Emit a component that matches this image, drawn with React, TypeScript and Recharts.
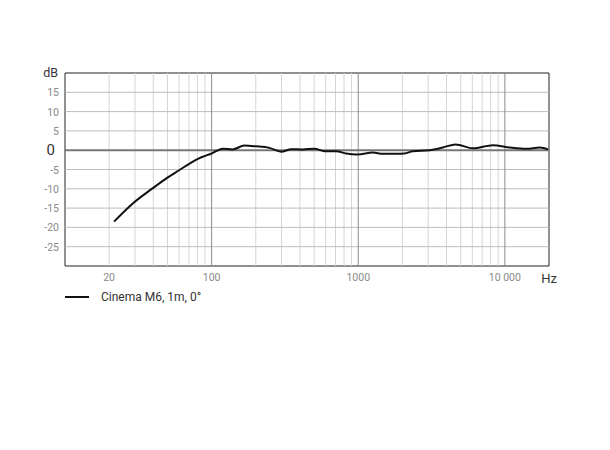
import React from "react";
import {
  LineChart,
  Line,
  XAxis,
  YAxis,
  ReferenceLine,
  ReferenceArea,
} from "recharts";

// On-axis frequency response.
const FREQ_HZ = [
  21.6, 29, 39.5, 50, 60, 74, 82, 87, 100, 119, 139, 167, 201, 248, 298, 349,
  419, 502, 589, 707, 826, 990, 1259, 1470, 1815, 2065, 2355, 3060, 3776, 4611,
  6053, 8297, 10790, 14030, 17290, 19700,
];
const LEVEL_DB = [
  -18.5, -13.8, -9.9, -7.1, -5.2, -3.0, -2.1, -1.7, -0.86, 0.4, 0.2, 1.2, 1.0,
  0.6, -0.4, 0.25, 0.2, 0.4, -0.25, -0.25, -0.86, -1.1, -0.6, -0.95, -0.95,
  -0.86, -0.26, 0.0, 0.7, 1.5, 0.5, 1.3, 0.7, 0.35, 0.7, 0.2,
];

const SERIES_NAME = "Cinema M6, 1m, 0°";

const X_DOMAIN: [number, number] = [10, 20000];
const Y_DOMAIN: [number, number] = [-30, 20];
const X_LABELS = [20, 100, 1000, 10000, 20000];
const X_LABEL_TEXT: Record<number, string> = {
  20: "20",
  100: "100",
  1000: "1000",
  10000: "10 000",
  20000: "Hz",
};
const Y_TICKS = [-30, -25, -20, -15, -10, -5, 0, 5, 10, 15, 20];
const DECADES = [100, 1000, 10000];
const MINOR_GRID = [
  20, 30, 40, 50, 60, 70, 80, 90, 200, 300, 400, 500, 600, 700, 800, 900, 2000,
  3000, 4000, 5000, 6000, 7000, 8000, 9000,
];
const H_GRID = [-25, -20, -15, -10, -5, 5, 10, 15];

const FONT = "Roboto, 'Noto Sans', sans-serif";
const LABEL = "#8a8a8a";
const DARK = "#333";

const data = FREQ_HZ.map((f, i) => ({ f, db: LEVEL_DB[i] }));

function XTick({ x, y, payload }: any) {
  const v = payload.value;
  const hz = v === 20000;
  return (
    <text
      x={x}
      y={y + (hz ? 9 : 7)}
      textAnchor="middle"
      fontFamily={FONT}
      fontSize={hz ? 13 : 10.5}
      fill={hz ? DARK : LABEL}
    >
      {X_LABEL_TEXT[v]}
    </text>
  );
}

function YTick({ x, y, payload }: any) {
  const v = payload.value;
  if (v === -30) return null;
  if (v === 20) {
    return (
      <text x={x + 1} y={y + 4} textAnchor="end" fontFamily={FONT} fontSize={12.5} fill={DARK}>
        dB
      </text>
    );
  }
  if (v === 0) {
    return (
      <text x={x - 2} y={y + 5} textAnchor="end" fontFamily={FONT} fontSize={15} fill={DARK}>
        0
      </text>
    );
  }
  return (
    <text x={x + 2} y={y + 4} textAnchor="end" fontFamily={FONT} fontSize={10.5} fill={LABEL}>
      {v}
    </text>
  );
}

export default function App() {
  return (
    <div style={{ position: "absolute", left: 0, top: 0, width: 610, height: 450, background: "#fff" }}>
      <LineChart
        width={610}
        height={450}
        data={data}
        margin={{ top: 73, right: 61, bottom: 154, left: 0 }}
      >
        <XAxis
          dataKey="f"
          type="number"
          scale="log"
          domain={X_DOMAIN}
          ticks={X_LABELS}
          tick={<XTick />}
          tickLine={false}
          axisLine={false}
          height={30}
          allowDataOverflow
          interval={0}
        />
        <YAxis
          type="number"
          domain={Y_DOMAIN}
          ticks={Y_TICKS}
          tick={<YTick />}
          tickLine={false}
          axisLine={false}
          width={65}
          interval={0}
        />
        {MINOR_GRID.map((g) => (
          <ReferenceLine key={`m${g}`} x={g} stroke="#d6d6d6" strokeWidth={1} />
        ))}
        {H_GRID.map((g) => (
          <ReferenceLine key={`h${g}`} y={g} stroke="#bdbdbd" strokeWidth={1} />
        ))}
        {DECADES.map((g) => (
          <ReferenceLine key={`d${g}`} x={g} stroke="#8c8c8c" strokeWidth={1} />
        ))}
        <ReferenceLine y={0} stroke="#777" strokeWidth={2} />
        <ReferenceArea
          x1={X_DOMAIN[0]}
          x2={X_DOMAIN[1]}
          y1={Y_DOMAIN[0]}
          y2={Y_DOMAIN[1]}
          stroke="#222"
          strokeWidth={1}
          fill="none"
          fillOpacity={0}
        />
        <Line
          type="monotone"
          dataKey="db"
          stroke="#111"
          strokeWidth={2}
          dot={false}
          isAnimationActive={false}
        />
      </LineChart>
      <div
        style={{
          position: "absolute",
          left: 65,
          top: 290,
          display: "flex",
          alignItems: "center",
          fontFamily: FONT,
          fontSize: 12,
          color: DARK,
        }}
      >
        <span style={{ display: "inline-block", width: 24, height: 2, background: "#111", marginRight: 12 }} />
        {SERIES_NAME}
      </div>
    </div>
  );
}
